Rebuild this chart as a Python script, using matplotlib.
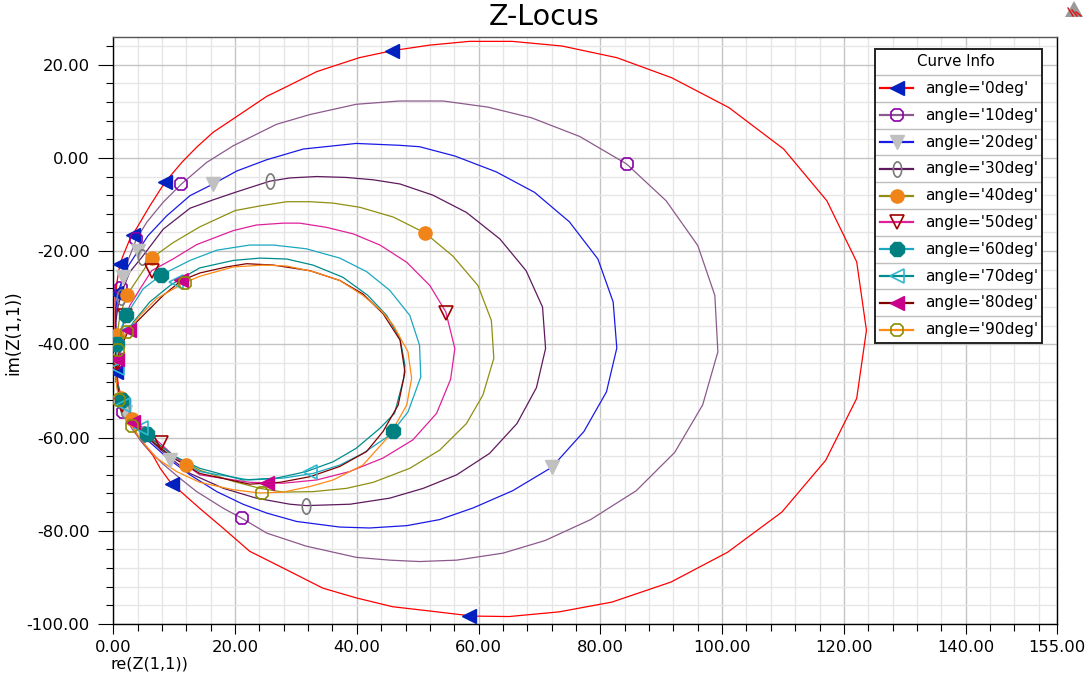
import matplotlib
matplotlib.use('Agg')
import matplotlib.pyplot as plt
from matplotlib.ticker import MultipleLocator
from matplotlib.path import Path
from matplotlib.transforms import Affine2D
from matplotlib.patches import Polygon, Rectangle

# --- traced points (re, im) for each curve ---------------------------------
z_0deg = [(0.4, -44), (0.3, -36), (0.3, -30.2), (0.6, -26.7), (1.1, -22.7), (1.6, -21.0),
          (2.7, -17.5), (4.1, -14.5), (6.0, -10.3), (8.5, -5.2), (11.3, -0.9), (13.7, 2.3),
          (16.4, 5.5), (20.3, 8.9), (25.2, 13.2), (28.5, 15.3), (33.4, 18.5), (40.4, 21.5),
          (45.8, 23.0), (52.0, 24.2), (58.5, 25.0), (65.5, 25.0), (73.7, 24.0), (82.7, 21.5),
          (91.7, 17.2), (101.1, 10.8), (110.1, 1.9), (117.2, -9.2), (122.1, -22.3), (123.7, -37.0),
          (122.1, -51.6), (117.0, -64.9), (109.8, -76.0), (100.9, -84.6), (91.6, -91.0),
          (81.9, -95.3), (73.2, -97.4), (65.0, -98.4), (59.0, -98.3), (51.9, -97.2), (45.9, -96.3),
          (39.9, -94.4), (34.4, -92.3), (27.9, -88.0), (22.4, -84.4), (18.0, -79.4), (14.2, -75.2),
          (11.0, -71.5), (9.6, -70.0), (7.7, -66.6), (6.5, -63.8), (4.4, -60.5), (2.7, -56.5),
          (1.6, -53.0), (0.8, -48.5), (0.4, -44)]
z_10deg = [(0.4, -46), (0.4, -33.8), (0.8, -30.2), (1.6, -25.9), (2.5, -21.7), (3.8, -17.4),
           (5.5, -13.8), (8.2, -9.5), (11.2, -5.6), (15.3, -1.0), (19.7, 2.6), (26.8, 7.2),
           (32.3, 9.3), (39.9, 11.5), (47.0, 12.2), (54.2, 12.2), (61.5, 10.9), (68.7, 8.6),
           (76.6, 4.6), (84.3, -1.3), (90.8, -9.2), (96.0, -18.8), (98.8, -29.5), (99.3, -41.6),
           (96.8, -53.0), (92.2, -63.2), (85.9, -71.4), (78.4, -77.6), (70.9, -82.1), (64.0, -84.8),
           (56.4, -86.3), (50.3, -86.6), (45.4, -86.3), (39.9, -85.7), (31.7, -83.3), (25.2, -80.5),
           (21.1, -77.3), (18.1, -75.2), (13.7, -71.6), (10.9, -68.7), (8.0, -65.5), (5.0, -61.5),
           (3.0, -58.0), (1.6, -54.5), (0.8, -50.5), (0.4, -46)]
z_20deg = [(0.4, -47), (0.4, -32.4), (0.8, -28.8), (1.6, -25.6), (2.5, -23.1), (4.1, -19.9),
           (5.7, -16.7), (8.8, -12.4), (12.6, -8.1), (16.4, -5.6), (20.3, -2.8), (25.2, -0.4),
           (31.2, 1.9), (39.9, 3.1), (47.0, 2.7), (50.3, 2.4), (56.1, 0.4), (62.9, -3.0),
           (69.2, -7.4), (74.9, -13.7), (79.6, -21.7), (82.1, -30.9), (82.7, -40.8), (81.0, -50.2),
           (77.3, -58.7), (72.0, -66.4), (65.6, -71.4), (59.1, -75.1), (53.6, -77.6), (48.2, -78.9),
           (42.1, -79.4), (37.2, -79.2), (30.1, -78.0), (25.2, -76.2), (21.3, -74.3), (17.0, -71.6),
           (12.6, -68.0), (9.0, -64.5), (6.0, -61.0), (3.5, -57.5), (2.0, -54.5), (1.0, -51.0),
           (0.4, -47)]
z_30deg = [(0.4, -46.5), (0.4, -35.2), (0.8, -31.7), (1.6, -28.1), (2.7, -24.5), (4.7, -21.3),
           (8.2, -15.3), (12.6, -10.8), (16.4, -9.0), (20.0, -7.4), (25.7, -5.0), (29.0, -4.3),
           (33.4, -4.0), (38.3, -4.2), (42.7, -4.7), (47.1, -5.6), (52.5, -8.0), (58.0, -11.7),
           (63.5, -17.4), (67.8, -24.2), (70.5, -32.0), (71.0, -40.9), (69.5, -49.3), (66.3, -57.0),
           (61.8, -63.4), (56.4, -68.0), (50.9, -70.9), (45.4, -73.0), (38.9, -74.3), (31.7, -74.6),
           (29.0, -74.3), (23.5, -73.0), (18.1, -70.9), (12.6, -67.7), (9.0, -64.0), (6.0, -60.5),
           (3.5, -57.0), (2.0, -54.0), (1.0, -50.5), (0.4, -46.5)]
z_40deg = [(0.5, -48), (0.6, -38.1), (1.1, -33.8), (2.2, -29.5), (4.4, -25.2), (6.3, -21.5),
           (9.8, -18.2), (14.2, -14.8), (20.0, -11.3), (24.1, -10.3), (28.5, -9.4), (32.3, -9.4),
           (36.1, -9.7), (40.5, -10.6), (46.0, -12.7), (51.2, -16.1), (55.8, -21.1), (59.9, -27.4),
           (62.1, -34.9), (62.5, -43.0), (60.7, -50.9), (58.0, -57.0), (53.6, -62.7), (48.7, -66.6),
           (42.7, -69.6), (38.3, -70.9), (32.8, -71.6), (27.9, -71.7), (24.1, -70.9), (19.7, -69.4),
           (14.2, -67.0), (10.0, -64.0), (7.0, -61.0), (4.5, -58.0), (2.5, -55.0), (1.2, -52.0),
           (0.5, -48)]
z_50deg = [(0.5, -48), (0.8, -39.5), (1.6, -35.9), (2.7, -31.7), (4.4, -28.1), (6.3, -24.2),
           (9.8, -21.7), (13.7, -18.6), (19.7, -15.6), (23.5, -14.4), (27.9, -14.0), (30.6, -14.0),
           (35.0, -14.9), (39.4, -16.3), (43.8, -18.7), (48.2, -22.4), (52.0, -27.4), (54.6, -33.0),
           (56.1, -40.9), (55.4, -47.5), (53.1, -54.8), (49.2, -60.5), (44.3, -64.4), (38.8, -67.3),
           (33.4, -69.1), (27.9, -69.8), (22.4, -69.6), (14.2, -68.0), (10.0, -64.0), (7.5, -61.0),
           (4.5, -57.5), (2.5, -54.5), (1.2, -51.5), (0.5, -48)]
z_60deg = [(0.5, -47.5), (0.6, -40.9), (1.1, -37.3), (2.1, -33.8), (4.9, -28.1), (7.9, -25.1),
           (12.6, -22.0), (17.0, -19.8), (22.4, -18.7), (26.3, -18.7), (31.7, -19.5), (37.2, -21.5),
           (41.6, -24.4), (45.4, -28.4), (48.7, -33.8), (50.3, -40.2), (50.5, -47.0), (48.4, -54.5),
           (45.4, -59.5), (41.0, -63.4), (37.2, -65.9), (32.8, -67.7), (27.9, -68.7), (22.4, -69.1),
           (14.2, -67.3), (10.0, -64.5), (7.0, -61.5), (4.5, -58.5), (2.5, -55.0), (1.2, -51.5),
           (0.5, -47.5)]
z_70deg = [(0.5, -47.5), (0.8, -42.4), (1.6, -38.8), (3.3, -35.2), (6.0, -30.9), (9.3, -27.4),
           (12.6, -24.8), (14.2, -23.6), (19.7, -22.0), (24.1, -21.5), (28.5, -21.7), (32.8, -23.0),
           (37.7, -25.6), (41.8, -29.5), (44.9, -33.8), (47.1, -38.8), (47.9, -44.5), (47.7, -47.3),
           (46.2, -54.8), (43.8, -58.0), (39.9, -62.3), (36.1, -65.2), (31.7, -67.3), (26.8, -68.7),
           (21.3, -69.1), (14.2, -66.6), (10.0, -64.0), (7.0, -61.0), (4.5, -58.0), (2.5, -55.0),
           (1.2, -51.5), (0.5, -47.5)]
z_80deg = [(0.5, -48), (0.6, -43.1), (1.4, -40.2), (2.5, -37.0), (4.9, -33.8), (8.2, -29.5),
           (11.2, -26.3), (14.2, -24.7), (18.6, -23.4), (21.9, -22.7), (26.3, -23.0), (32.3, -24.2),
           (37.2, -26.3), (41.0, -29.2), (44.3, -33.4), (47.1, -39.1), (47.9, -45.9), (46.8, -53.0),
           (44.3, -58.7), (41.6, -63.0), (37.2, -66.2), (32.3, -68.4), (27.4, -69.6), (22.4, -70.0),
           (14.2, -67.7), (10.0, -64.5), (7.0, -61.5), (4.5, -58.5), (2.5, -55.5), (1.2, -52.0),
           (0.5, -48)]
z_90deg = [(0.3, -45), (0.8, -41.2), (2.2, -37.3), (4.4, -33.8), (7.1, -30.2), (11.5, -26.9),
           (14.2, -25.4), (19.7, -23.4), (24.6, -23.0), (28.5, -23.2), (32.8, -24.4), (37.2, -26.3),
           (41.0, -29.5), (44.1, -32.9), (46.0, -35.9), (48.4, -41.6), (49.0, -47.3), (48.2, -53.0),
           (45.4, -59.5), (41.0, -65.9), (36.1, -69.1), (32.3, -70.5), (27.9, -71.7), (24.1, -71.9),
           (19.7, -71.2), (14.2, -69.6), (10.4, -67.3), (7.1, -64.4), (4.4, -60.2), (2.2, -55.9),
           (1.1, -52.3), (0.6, -49.5), (0.3, -45)]

# marker positions along each curve
mk_0deg = [(45.8, 23.0), (8.5, -5.2), (3.2, -16.5), (1.1, -22.7), (0.4, -29.0), (0.5, -46.0),
           (1.6, -53.0), (9.6, -70.0), (58.5, -98.3)]
mk_10deg = [(84.3, -1.3), (11.2, -5.6), (3.8, -17.4), (1.2, -28.0), (0.4, -44.0), (1.6, -54.5),
            (21.1, -77.3)]
mk_20deg = [(16.4, -5.6), (4.1, -19.9), (1.6, -25.6), (0.4, -40.0), (2.0, -54.5), (9.3, -64.8),
            (72.0, -66.4)]
mk_30deg = [(25.7, -5.0), (4.7, -21.3), (1.2, -29.9), (0.4, -42.0), (2.0, -54.0), (5.0, -59.2),
            (31.7, -74.6)]
mk_40deg = [(51.2, -16.1), (6.3, -21.5), (2.2, -29.5), (0.6, -38.0), (1.3, -51.5), (3.0, -56.0),
            (12.0, -65.8)]
mk_50deg = [(54.6, -33.3), (6.3, -24.2), (2.0, -34.0), (0.6, -44.0), (1.5, -53.0), (7.8, -61.2)]
mk_60deg = [(45.9, -58.7), (7.9, -25.1), (2.1, -33.8), (0.6, -40.0), (1.4, -52.0), (5.5, -59.3)]
mk_70deg = [(32.3, -67.4), (10.3, -26.6), (2.5, -36.9), (0.6, -45.0), (1.6, -53.0), (4.5, -58.0)]
mk_80deg = [(25.2, -69.8), (11.2, -26.3), (2.5, -37.0), (0.6, -43.1), (3.3, -56.7)]
mk_90deg = [(24.4, -71.9), (11.7, -26.8), (2.2, -37.3), (0.8, -41.2), (1.0, -52.0), (3.0, -57.6)]

labels = ["angle='0deg'", "angle='10deg'", "angle='20deg'", "angle='30deg'", "angle='40deg'",
          "angle='50deg'", "angle='60deg'", "angle='70deg'", "angle='80deg'", "angle='90deg'"]
curves = [z_0deg, z_10deg, z_20deg, z_30deg, z_40deg, z_50deg, z_60deg, z_70deg, z_80deg, z_90deg]
markers = [mk_0deg, mk_10deg, mk_20deg, mk_30deg, mk_40deg, mk_50deg, mk_60deg, mk_70deg,
           mk_80deg, mk_90deg]

x_ticks = [0, 20, 40, 60, 80, 100, 120, 140, 155]
y_ticks = [-100, -80, -60, -40, -20, 0, 20]

# --- styles ------------------------------------------------------------------
ellipse = Affine2D().scale(0.55, 1.0).transform_path(Path.unit_circle())

line_colors = ['#FF0000', '#8C5A8C', '#1A1AE6', '#5E1A5E', '#8F8F12',
               '#E0209A', '#1AA8C0', '#008C8C', '#800000', '#FF8A14']
mk_styles = [
    dict(marker='<', ms=10.5, mfc='#0020C0', mec='#0020C0'),
    dict(marker='8', ms=10, mfc='none', mec='#8A00A8', mew=1.2),
    dict(marker='v', ms=10.5, mfc='#C0C0C0', mec='#C0C0C0'),
    dict(marker=ellipse, ms=11, mfc='none', mec='#7A7A7A', mew=1.2),
    dict(marker='o', ms=9.5, mfc='#F08418', mec='#F08418'),
    dict(marker='v', ms=10, mfc='none', mec='#A00000', mew=1.2),
    dict(marker='8', ms=11, mfc='#008080', mec='#008080'),
    dict(marker='<', ms=10.5, mfc='none', mec='#30B8D0', mew=1.2),
    dict(marker='<', ms=10.5, mfc='#C8008C', mec='#C8008C'),
    dict(marker='8', ms=10, mfc='none', mec='#8C8C00', mew=1.2),
]

W, H = 1091, 673
fig = plt.figure(figsize=(W / 100, H / 100), dpi=100)
ax = fig.add_axes([113.3 / W, 1 - 624 / H, (1057 - 113.3) / W, (624 - 36.7) / H])

for pts, mks, col, st in zip(curves, markers, line_colors, mk_styles):
    ax.plot([p[0] for p in pts], [p[1] for p in pts], color=col, lw=0.9, zorder=3)
    ax.plot([m[0] for m in mks], [m[1] for m in mks], ls='none', zorder=4, **st)

ax.set_xlim(0, 155)
ax.set_ylim(-100, 26)
ax.set_xticks(x_ticks)
ax.set_xticklabels([f"{v:.2f}" for v in x_ticks])
ax.set_yticks(y_ticks)
ax.set_yticklabels([f"{v:.2f}" for v in y_ticks])
ax.xaxis.set_minor_locator(MultipleLocator(4))
ax.yaxis.set_minor_locator(MultipleLocator(4))
ax.tick_params(axis='y', which='major', length=10.8, width=0.8, pad=6, labelsize=11.8)
ax.tick_params(axis='x', which='major', length=7.2, width=0.8, pad=4, labelsize=11.8)
ax.tick_params(which='minor', length=4.8, width=0.8)
ax.grid(which='major', color='#C4C4C4', lw=1.0)
ax.grid(which='minor', color='#E6E6E6', lw=1.0)
ax.set_axisbelow(True)
for s in ax.spines.values():
    s.set_linewidth(1.0)
ax.spines['top'].set_color('#555555')

fig.text(0.4986, 1 - 25 / H, 'Z-Locus', ha='center', va='baseline', fontsize=20.5)
fig.text(111 / W, 1 - 664 / H, 're(Z(1,1))', ha='left', va='center', fontsize=11.5)
fig.text(13 / W, 1 - 333 / H, 'im(Z(1,1))', ha='center', va='center', rotation=90, fontsize=12)

# --- legend box ("Curve Info") ----------------------------------------------
lx0, ly0, lx1, ly1 = 875, 49, 1042, 343
lg = fig.add_axes([lx0 / W, 1 - ly1 / H, (lx1 - lx0) / W, (ly1 - ly0) / H])
lw_, lh_ = lx1 - lx0, ly1 - ly0
lg.set_xlim(0, lw_)
lg.set_ylim(lh_, 0)
lg.axis('off')
lg.add_patch(Rectangle((0, 0), lw_, lh_, facecolor='white', edgecolor='none', zorder=0))
head = 26
row = (lh_ - head) / len(labels)
lg.text(lw_ / 2 - 3, head / 2, 'Curve Info', ha='center', va='center', fontsize=10.8)
lg.plot([0, lw_], [head, head], color='#BEBEBE', lw=1)
for i, (lab, col, st) in enumerate(zip(labels, line_colors, mk_styles)):
    yc = head + row * (i + 0.5)
    if i > 0:
        lg.plot([0, lw_], [head + row * i] * 2, color='#BEBEBE', lw=1)
    lg.plot([5, 38], [yc, yc], color=col, lw=1.6)
    lg.plot([21.7], [yc], ls='none', **st)
    lg.text(50, yc, lab, ha='left', va='center', fontsize=11.1)
lg.add_patch(Rectangle((0, 0), lw_, lh_, facecolor='none', edgecolor='#222222', lw=1.4,
                       zorder=5, clip_on=False))

# small warning-style icon at the top right
tri = [(1065 / W, 1 - 17 / H), (1083 / W, 1 - 17 / H), (1074 / W, 1 - 1 / H)]
fig.patches.append(Polygon(tri, closed=True, transform=fig.transFigure,
                           facecolor='#9A9A9A', edgecolor='none'))
for k in range(3):
    x0 = (1068 + 4 * k) / W
    fig.lines.append(plt.Line2D([x0, x0 + 5 / W], [1 - (8 + 2 * k) / H, 1 - 16 / H],
                                transform=fig.transFigure, color='#E01010', lw=1))

fig.savefig('out.png', dpi=100)
